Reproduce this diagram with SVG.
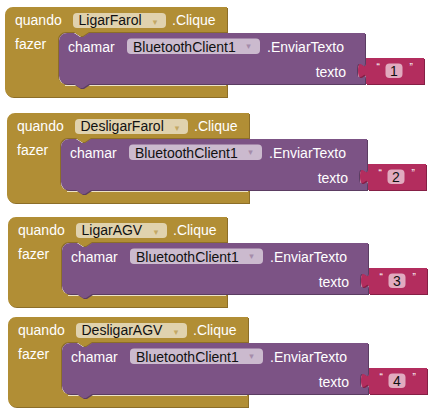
<svg xmlns="http://www.w3.org/2000/svg" width="438" height="414" viewBox="0 0 438 414">
<style>
.t{font-family:"Liberation Sans",Arial,sans-serif;font-size:14px}
.w{fill:#fff}
.k{fill:#111}
.ev{fill:#B18E35}
.evd{fill:#8C6E28}
.cl{fill:#7C5385}
.cld{fill:#5B3D62}
.tx{fill:#B32D5E}
.txd{fill:#861F45}
.dd1{fill:#E0D2AE}
.dd2{fill:#CBBACE}
.dd3{fill:#E1ABBF}
.ar{font-family:"DejaVu Sans",sans-serif;font-size:9px;text-anchor:middle}
.ar1{fill:#C3A864}
.ar2{fill:#A58CAA}
.q{font-family:"Liberation Sans",Arial,sans-serif;font-size:10px;fill:#fff}
.hl{stroke:#EDE3C6;stroke-width:1;fill:none}
.end{text-anchor:end}
.mid{text-anchor:middle}
</style>
<defs>
<path id="call" d="M54,34 A8,8 0 0 1 62,26 H69 l6,4 3,0 6,-4 H360 V56 c0,10 -8,-8 -8,7.5 s8,-2.5 8,7.5 V77 H84 l-6,4 -3,0 -6,-4 H62 A8,8 0 0 1 54,69 Z"/>
<path id="txt" d="M361,51 H419 V77 H361 V71 c0,-10 -8,8 -8,-7.5 s8,2.5 8,-7.5 Z"/>
<g id="callbody">
<use href="#call" class="cld" transform="translate(1,1)"/>
<use href="#call" class="cl"/>
<text class="t w" x="63" y="44.5">chamar</text>
<rect class="dd2" x="122" y="31.5" width="133" height="15.5" rx="4"/>
<text class="t k" x="128" y="44.5">BluetoothClient1</text>
<text class="ar ar2" x="243.5" y="42">▾</text>
<text class="t w" x="262" y="44.5">.EnviarTexto</text>
<text class="t w end" x="341" y="69.5">texto</text>
</g>
<g id="txtbody">
<use href="#txt" class="txd" transform="translate(1,1)"/>
<use href="#txt" class="tx"/>
<text class="q" x="371.5" y="64">“</text>
<rect class="dd3" x="380.5" y="56.5" width="17" height="14.5" rx="4"/>
<text class="q" x="404.5" y="64">”</text>
</g>
</defs>
<g id="connectors"/>

<g id="block1" transform="translate(5,7)">
<g id="event1">
<path class="evd" transform="translate(1,1)" d="M0,8 A8,8 0 0 1 8,0 H222 V25 H84 l-6,4 -3,0 -6,-4 H61 A8,8 0 0 0 53,33 V69 A8,8 0 0 0 61,77 H222 V90 H8 A8,8 0 0 1 0,82 Z"/>
<path class="ev" d="M0,8 A8,8 0 0 1 8,0 H222 V25 H84 l-6,4 -3,0 -6,-4 H61 A8,8 0 0 0 53,33 V69 A8,8 0 0 0 61,77 H222 V90 H8 A8,8 0 0 1 0,82 Z"/>
<path class="hl" d="M60,78.5 H221"/>
<text class="t w" x="10" y="17.5">quando</text>
<rect class="dd1" x="68" y="6" width="93" height="15" rx="4"/>
<text class="t k" x="73.5" y="18">LigarFarol</text>
<text class="ar ar1" x="150" y="17.5">▾</text>
<text class="t w" x="167" y="18">.Clique</text>
<text class="t w" x="10" y="42">fazer</text>
</g>
<g id="call1"><use href="#callbody"/></g>
<g id="text1"><use href="#txtbody"/><text class="t k mid" x="389" y="69">1</text></g>
</g>

<g id="block2" transform="translate(7,113)">
<g id="event2">
<path class="evd" transform="translate(1,1)" d="M0,8 A8,8 0 0 1 8,0 H242 V25 H84 l-6,4 -3,0 -6,-4 H61 A8,8 0 0 0 53,33 V69 A8,8 0 0 0 61,77 H242 V90 H8 A8,8 0 0 1 0,82 Z"/>
<path class="ev" d="M0,8 A8,8 0 0 1 8,0 H242 V25 H84 l-6,4 -3,0 -6,-4 H61 A8,8 0 0 0 53,33 V69 A8,8 0 0 0 61,77 H242 V90 H8 A8,8 0 0 1 0,82 Z"/>
<path class="hl" d="M60,78.5 H241"/>
<text class="t w" x="10" y="17.5">quando</text>
<rect class="dd1" x="68" y="6" width="113" height="15" rx="4"/>
<text class="t k" x="73.5" y="18">DesligarFarol</text>
<text class="ar ar1" x="170" y="17.5">▾</text>
<text class="t w" x="187" y="18">.Clique</text>
<text class="t w" x="10" y="42">fazer</text>
</g>
<g id="call2"><use href="#callbody"/></g>
<g id="text2"><use href="#txtbody"/><text class="t k mid" x="389" y="69">2</text></g>
</g>

<g id="block3" transform="translate(8,217)">
<g id="event3">
<path class="evd" transform="translate(1,1)" d="M0,8 A8,8 0 0 1 8,0 H219 V25 H84 l-6,4 -3,0 -6,-4 H61 A8,8 0 0 0 53,33 V69 A8,8 0 0 0 61,77 H219 V90 H8 A8,8 0 0 1 0,82 Z"/>
<path class="ev" d="M0,8 A8,8 0 0 1 8,0 H219 V25 H84 l-6,4 -3,0 -6,-4 H61 A8,8 0 0 0 53,33 V69 A8,8 0 0 0 61,77 H219 V90 H8 A8,8 0 0 1 0,82 Z"/>
<path class="hl" d="M60,78.5 H218"/>
<text class="t w" x="10" y="17.5">quando</text>
<rect class="dd1" x="68" y="6" width="91" height="15" rx="4"/>
<text class="t k" x="73.5" y="18">LigarAGV</text>
<text class="ar ar1" x="148" y="17.5">▾</text>
<text class="t w" x="165" y="18">.Clique</text>
<text class="t w" x="10" y="42">fazer</text>
</g>
<g id="call3"><use href="#callbody"/></g>
<g id="text3"><use href="#txtbody"/><text class="t k mid" x="389" y="69">3</text></g>
</g>

<g id="block4" transform="translate(8,317)">
<g id="event4">
<path class="evd" transform="translate(1,1)" d="M0,8 A8,8 0 0 1 8,0 H240 V25 H84 l-6,4 -3,0 -6,-4 H61 A8,8 0 0 0 53,33 V69 A8,8 0 0 0 61,77 H240 V90 H8 A8,8 0 0 1 0,82 Z"/>
<path class="ev" d="M0,8 A8,8 0 0 1 8,0 H240 V25 H84 l-6,4 -3,0 -6,-4 H61 A8,8 0 0 0 53,33 V69 A8,8 0 0 0 61,77 H240 V90 H8 A8,8 0 0 1 0,82 Z"/>
<path class="hl" d="M60,78.5 H239"/>
<text class="t w" x="10" y="17.5">quando</text>
<rect class="dd1" x="68" y="6" width="111" height="15" rx="4"/>
<text class="t k" x="73.5" y="18">DesligarAGV</text>
<text class="ar ar1" x="168" y="17.5">▾</text>
<text class="t w" x="185" y="18">.Clique</text>
<text class="t w" x="10" y="42">fazer</text>
</g>
<g id="call4"><use href="#callbody"/></g>
<g id="text4"><use href="#txtbody"/><text class="t k mid" x="389" y="69">4</text></g>
</g>
</svg>
